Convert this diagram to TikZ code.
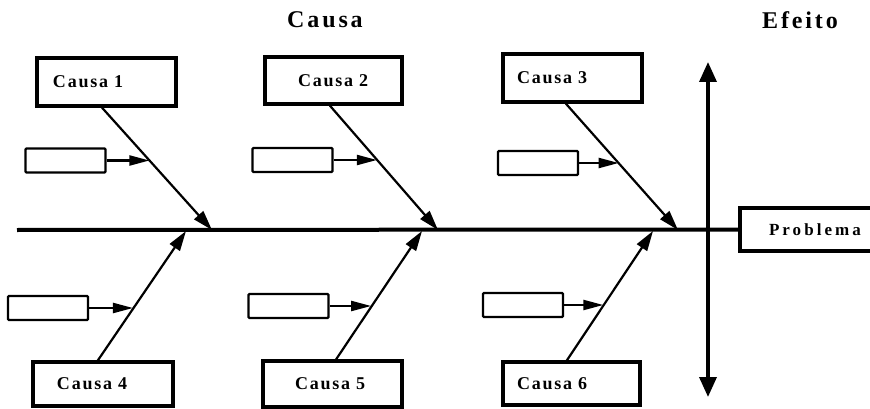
\documentclass[tikz,border=0pt]{standalone}
\usepackage{fontspec}
\setmainfont{Liberation Serif}
\newfontfamily\lblfont[LetterSpace=10]{Liberation Serif}
\newfontfamily\headfont[LetterSpace=12]{Liberation Serif}
\newfontfamily\probfont[LetterSpace=18]{Liberation Serif}
\usetikzlibrary{arrows.meta,calc}

\begin{document}
\begin{tikzpicture}[x=1pt,y=-1pt,
  causebox/.style={draw, line width=3.2pt, inner sep=0pt, align=left,
    font=\lblfont\bfseries\fontsize{18}{20}\selectfont},
  subbox/.style={draw, line width=2.2pt, minimum width=80pt, minimum height=24pt,
    inner sep=0pt, rounded corners=1pt},
  bone/.style={line width=2.2pt, -{Triangle[length=20pt,width=12pt]}},
  twig/.style={line width=2.2pt, shorten >=1pt, -{Triangle[length=20pt,width=10pt]}},
  spine/.style={line width=4pt},
  axis/.style={line width=3.5pt, {Triangle[length=20pt,width=17pt]}-{Triangle[length=20pt,width=17pt]}},
  heading/.style={font=\headfont\bfseries\fontsize{24}{28}\selectfont}]

\useasboundingbox (0,0) rectangle (870,409);

% headings
\node[heading] (tcausa) at (325,20) {Causa};
\node[heading] (tefeito) at (800,20) {Efeito};

% effect box and main spine
\node[draw, line width=3.2pt, inner sep=0pt, align=left, text width=135pt,
  minimum height=43pt, font=\probfont\bfseries\fontsize{17}{19}\selectfont]
  (prob) at (807.5,229.5) {\hspace*{29pt}Problema};
\coordinate (tail) at (17,230);
\draw[spine] (tail) -- (prob.west);

% cause/effect separator
\coordinate (up) at (708,62);
\coordinate (down) at (708,397);
\draw[axis] (down) -- (up);

% spine junctions
\coordinate (j1) at (212,230);
\coordinate (j2) at (438,230);
\coordinate (j3) at (678,230);
\coordinate (j4) at (186,231);
\coordinate (j5) at (422,231);
\coordinate (j6) at (653,231);

% main causes
\node[causebox, text width=139pt, minimum height=48pt] (c1) at (106.5,82) {\hspace*{16pt}Causa 1};
\node[causebox, text width=137pt, minimum height=47pt] (c2) at (333.5,80.5) {\hspace*{33pt}Causa 2};
\node[causebox, text width=139pt, minimum height=48pt] (c3) at (572.5,78) {\hspace*{14pt}Causa 3};
\node[causebox, text width=140pt, minimum height=44pt] (c4) at (103,384) {\hspace*{24pt}Causa 4};
\node[causebox, text width=139pt, minimum height=46pt] (c5) at (332.5,384) {\hspace*{32pt}Causa 5};
\node[causebox, text width=137pt, minimum height=43pt] (c6) at (571.5,383.5) {\hspace*{14pt}Causa 6};

% sub-causes
\node[subbox] (s1) at (65.5,160.5) {};
\node[subbox] (s2) at (292.5,160) {};
\node[subbox] (s3) at (538,163) {};
\node[subbox] (s4) at (48,308) {};
\node[subbox] (s5) at (288.5,306) {};
\node[subbox] (s6) at (523,305) {};

% bones from causes to the spine
\draw[bone] ($(c1.south west)!0.468!(c1.south east)$) -- coordinate[pos=0.44] (d1) (j1);
\draw[bone] ($(c2.south west)!0.474!(c2.south east)$) -- coordinate[pos=0.444] (d2) (j2);
\draw[bone] ($(c3.south west)!0.453!(c3.south east)$) -- coordinate[pos=0.48] (d3) (j3);
\draw[bone] ($(c4.north west)!0.464!(c4.north east)$) -- coordinate[pos=0.41] (d4) (j4);
\draw[bone] ($(c5.north west)!0.525!(c5.north east)$) -- coordinate[pos=0.42] (d5) (j5);
\draw[bone] ($(c6.north west)!0.467!(c6.north east)$) -- coordinate[pos=0.435] (d6) (j6);

% twigs from sub-causes to the bones
\draw[twig] (s1.east) -- (s1.east -| d1);
\draw[twig] (s2.east) -- (s2.east -| d2);
\draw[twig] (s3.east) -- (s3.east -| d3);
\draw[twig] (s4.east) -- (s4.east -| d4);
\draw[twig] (s5.east) -- (s5.east -| d5);
\draw[twig] (s6.east) -- (s6.east -| d6);
\end{tikzpicture}
\end{document}
